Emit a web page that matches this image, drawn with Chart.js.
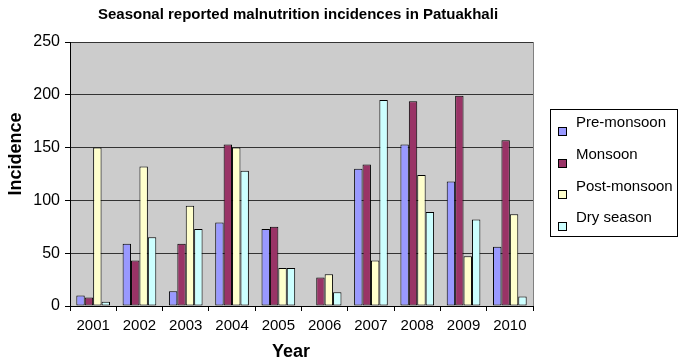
<!DOCTYPE html>
<html>
<head>
<meta charset="utf-8">
<script src="https://cdn.jsdelivr.net/npm/chart.js@4/dist/chart.umd.min.js"></script>
<style>
  html, body { margin: 0; padding: 0; background: #ffffff; }
  #wrap { width: 679px; height: 363px; }
</style>
</head>
<body>
<div id="wrap"><canvas id="c" width="679" height="363"></canvas></div>
<script>
// Reported malnutrition cases per season, Patuakhali 2001-2010
const years = ['2001', '2002', '2003', '2004', '2005', '2006', '2007', '2008', '2009', '2010'];
const preMonsoon  = [10, 59, 14, 79, 73, 0, 130, 153, 118, 56];
const monsoon     = [8, 43, 59, 153, 75, 27, 134, 194, 199, 157];
const postMonsoon = [150, 132, 95, 150, 36, 30, 43, 124, 47, 87];
const drySeason   = [4, 65, 73, 128, 36, 13, 195, 89, 82, 9];
const seriesNames = ['Pre-monsoon', 'Monsoon', 'Post-monsoon', 'Dry season'];
const yTicks = [0, 50, 100, 150, 200, 250];

const chartTitle = 'Seasonal reported malnutrition incidences in Patuakhali';
const xTitle = 'Year';
const yTitle = 'Incidence';

const FONT = '"Liberation Sans", Arial, Helvetica, sans-serif';
const colors = ['#9999FF', '#993366', '#FFFFCC', '#CCFFFF'];

// Gray plot panel behind the grid
const plotPanel = {
  id: 'plotPanel',
  beforeDraw(chart) {
    const { ctx, chartArea: a } = chart;
    ctx.save();
    ctx.fillStyle = '#CCCCCC';
    ctx.fillRect(a.left, a.top, a.right - a.left, a.bottom - a.top);
    ctx.strokeStyle = '#808080';
    ctx.lineWidth = 1;
    ctx.strokeRect(Math.round(a.left) + 0.5, Math.round(a.top) + 0.5,
                   Math.round(a.right - a.left), Math.round(a.bottom - a.top));
    ctx.restore();
  }
};

// Chart title, axis titles and boxed legend
const annotations = {
  id: 'annotations',
  afterDraw(chart) {
    const { ctx } = chart;
    ctx.save();
    ctx.fillStyle = '#000000';
    ctx.textAlign = 'center';
    ctx.textBaseline = 'middle';
    ctx.font = 'bold 15px ' + FONT;
    ctx.fillText(chartTitle, 298, 15);

    ctx.font = 'bold 18px ' + FONT;
    ctx.fillText(xTitle, 291, 352);
    ctx.save();
    ctx.translate(16, 154);
    ctx.rotate(-Math.PI / 2);
    ctx.fillText(yTitle, 0, 0);
    ctx.restore();

    // legend box
    const lx = 550, ly = 109, lw = 128, lh = 128;
    ctx.fillStyle = '#ffffff';
    ctx.fillRect(lx, ly, lw, lh);
    ctx.strokeStyle = '#000000';
    ctx.lineWidth = 1;
    ctx.strokeRect(lx + 0.5, ly + 0.5, lw - 1, lh - 1);

    ctx.font = '15px ' + FONT;
    ctx.textAlign = 'left';
    ctx.textBaseline = 'middle';
    chart.data.datasets.forEach((ds, i) => {
      const cy = 123 + i * 31.7;
      ctx.fillStyle = ds.backgroundColor;
      ctx.fillRect(558, Math.round(cy) + 4, 8, 8);
      ctx.strokeStyle = '#000000';
      ctx.strokeRect(558.5, Math.round(cy) + 4.5, 8, 8);
      ctx.fillStyle = '#000000';
      ctx.fillText(ds.label, 576, cy);
    });
    ctx.restore();
  }
};

const seriesValues = [preMonsoon, monsoon, postMonsoon, drySeason];

new Chart(document.getElementById('c'), {
  type: 'bar',
  data: {
    labels: years,
    datasets: seriesValues.map((vals, i) => ({
      label: seriesNames[i],
      data: vals,
      backgroundColor: colors[i],
      borderColor: '#000000',
      borderWidth: 1,
      borderSkipped: false,
      categoryPercentage: 0.727,
      barPercentage: 1.0
    }))
  },
  options: {
    responsive: false,
    animation: false,
    devicePixelRatio: 1,
    layout: { padding: { left: 0, right: 146, top: 42, bottom: 0 } },
    plugins: {
      legend: { display: false },
      title: { display: false },
      tooltip: { enabled: false }
    },
    scales: {
      x: {
        afterFit(scale) { scale.height = 57; },
        grid: {
          offset: true,
          drawOnChartArea: false,
          drawTicks: true,
          tickLength: 5,
          tickColor: '#000000'
        },
        border: { display: true, color: '#000000', width: 1 },
        ticks: {
          color: '#000000',
          font: { family: FONT, size: 15 },
          padding: 6,
          maxRotation: 0,
          autoSkip: false
        }
      },
      y: {
        min: 0,
        max: 250,
        afterFit(scale) { scale.width = 70; },
        afterBuildTicks(scale) { scale.ticks = yTicks.map(v => ({ value: v })); },
        grid: {
          color: '#333333',
          lineWidth: 1,
          drawTicks: true,
          tickLength: 5,
          tickColor: '#000000'
        },
        border: { display: true, color: '#000000', width: 1 },
        ticks: {
          color: '#000000',
          font: { family: FONT, size: 16 },
          padding: 5
        }
      }
    }
  },
  plugins: [plotPanel, annotations]
});
</script>
</body>
</html>
